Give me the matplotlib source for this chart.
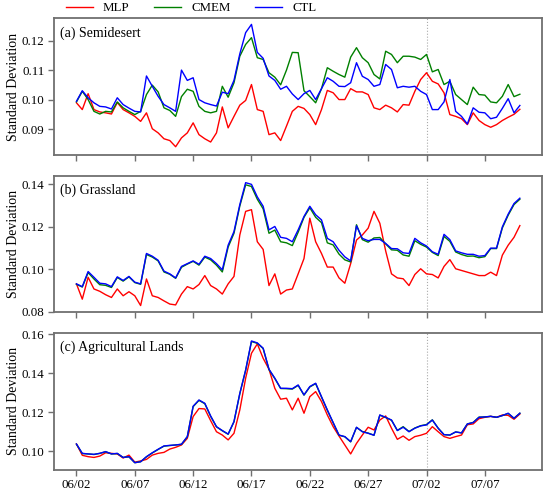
import matplotlib
matplotlib.use("Agg")
import matplotlib.pyplot as plt
import pandas as pd
import numpy as np

plt.rcParams['font.family'] = ['Liberation Serif', 'DejaVu Serif']

# ---------------- data (12-hourly, 06/02 00:00 -> 07/10 00:00) ----------------
times = pd.date_range('2021-06-02', periods=77, freq='12h')
tick_dates = pd.to_datetime(['2021-06-02', '2021-06-07', '2021-06-12', '2021-06-17',
                             '2021-06-22', '2021-06-27', '2021-07-02', '2021-07-07'])
tick_labels = ['06/02', '06/07', '06/12', '06/17', '06/22', '06/27', '07/02', '07/07']
marker_date = pd.Timestamp('2021-07-02')

panel_titles = ['(a) Semidesert', '(b) Grassland', '(c) Agricultural Lands']
series_names = ['MLP', 'CMEM', 'CTL']

mlp_a = [0.0989, 0.0966, 0.1020, 0.0966, 0.0958, 0.0955, 0.0951, 0.0990, 0.0966, 0.0955,
         0.0943, 0.0926, 0.0955, 0.0901, 0.0887, 0.0867, 0.0861, 0.0840, 0.0870, 0.0887,
         0.0921, 0.0881, 0.0867, 0.0856, 0.0887, 0.0975, 0.0904, 0.0943, 0.0981, 0.0997,
         0.1051, 0.0966, 0.0960, 0.0881, 0.0887, 0.0861, 0.0910, 0.0960, 0.0977, 0.0970,
         0.0949, 0.0915, 0.0966, 0.1031, 0.1023, 0.1000, 0.1000, 0.1037, 0.1026, 0.1026,
         0.1017, 0.0972, 0.0966, 0.0981, 0.0972, 0.0958, 0.0983, 0.0981, 0.1028, 0.1068,
         0.1091, 0.1062, 0.1053, 0.1023, 0.0949, 0.0943, 0.0935, 0.0915, 0.0955, 0.0929,
         0.0915, 0.0906, 0.0915, 0.0929, 0.0940, 0.0950, 0.0967]
cmem_a = [0.0992, 0.1028, 0.1000, 0.0960, 0.0951, 0.0960, 0.0958, 0.0992, 0.0972, 0.0960,
          0.0949, 0.0960, 0.1017, 0.1049, 0.1026, 0.0972, 0.0963, 0.0943, 0.1010, 0.1035,
          0.1028, 0.0977, 0.0960, 0.0955, 0.0960, 0.1045, 0.1008, 0.1057, 0.1147, 0.1187,
          0.1210, 0.1142, 0.1136, 0.1091, 0.1076, 0.1050, 0.1100, 0.1160, 0.1159, 0.1030,
          0.1010, 0.0989, 0.1037, 0.1108, 0.1096, 0.1085, 0.1076, 0.1144, 0.1176, 0.1142,
          0.1125, 0.1085, 0.1070, 0.1164, 0.1153, 0.1125, 0.1147, 0.1147, 0.1144, 0.1136,
          0.1153, 0.1094, 0.1102, 0.1051, 0.1062, 0.1017, 0.1000, 0.0983, 0.1042, 0.1017,
          0.1015, 0.0992, 0.0989, 0.1011, 0.1051, 0.1010, 0.1018]
ctl_a = [0.0994, 0.1030, 0.1006, 0.0989, 0.0977, 0.0975, 0.0968, 0.1006, 0.0983, 0.0971,
         0.0960, 0.0958, 0.1080, 0.1045, 0.1011, 0.0983, 0.0972, 0.0960, 0.1100, 0.1065,
         0.1074, 0.1000, 0.0989, 0.0983, 0.0978, 0.1025, 0.1020, 0.1065, 0.1155, 0.1227,
         0.1255, 0.1160, 0.1140, 0.1080, 0.1065, 0.1035, 0.1045, 0.1019, 0.1000, 0.1020,
         0.1031, 0.1000, 0.1037, 0.1074, 0.1062, 0.1045, 0.1044, 0.1057, 0.1125, 0.1079,
         0.1068, 0.1045, 0.1051, 0.1119, 0.1102, 0.1040, 0.1045, 0.1042, 0.1045, 0.1028,
         0.1017, 0.0966, 0.0966, 0.0992, 0.1068, 0.0960, 0.0943, 0.0917, 0.0972, 0.0957,
         0.0955, 0.0935, 0.0940, 0.0970, 0.1003, 0.0955, 0.0980]

mlp_b = [0.0932, 0.0860, 0.0963, 0.0908, 0.0897, 0.0881, 0.0868, 0.0908, 0.0876, 0.0895,
         0.0876, 0.0830, 0.0955, 0.0876, 0.0868, 0.0852, 0.0837, 0.0833, 0.0884, 0.0919,
         0.0908, 0.0929, 0.0971, 0.0924, 0.0908, 0.0884, 0.0932, 0.0967, 0.1162, 0.1273,
         0.1281, 0.1130, 0.1094, 0.0924, 0.0979, 0.0884, 0.0903, 0.0908, 0.0979, 0.1051,
         0.1241, 0.1130, 0.1075, 0.1011, 0.1011, 0.0960, 0.0935, 0.1027, 0.1138, 0.1162,
         0.1194, 0.1273, 0.1217, 0.1087, 0.0979, 0.0960, 0.0956, 0.0924, 0.0976, 0.1003,
         0.0979, 0.0976, 0.0960, 0.1014, 0.1046, 0.1003, 0.0995, 0.0987, 0.0979, 0.0971,
         0.0971, 0.0987, 0.0971, 0.1067, 0.1114, 0.1151, 0.1206]
cmem_b = [0.0930, 0.0917, 0.0985, 0.0955, 0.0928, 0.0925, 0.0915, 0.0962, 0.0945, 0.0965,
          0.0938, 0.0930, 0.1070, 0.1058, 0.1040, 0.0988, 0.0977, 0.0958, 0.1010, 0.1025,
          0.1038, 0.1020, 0.1058, 0.1045, 0.1020, 0.0988, 0.1105, 0.1170, 0.1298, 0.1398,
          0.1390, 0.1330, 0.1285, 0.1170, 0.1185, 0.1130, 0.1125, 0.1112, 0.1175, 0.1245,
          0.1290, 0.1245, 0.1220, 0.1125, 0.1115, 0.1072, 0.1045, 0.1035, 0.1210, 0.1140,
          0.1128, 0.1148, 0.1150, 0.1120, 0.1092, 0.1090, 0.1068, 0.1062, 0.1135, 0.1118,
          0.1105, 0.1080, 0.1065, 0.1155, 0.1132, 0.1082, 0.1070, 0.1062, 0.1063, 0.1055,
          0.1060, 0.1098, 0.1098, 0.1195, 0.1255, 0.1305, 0.1330]
ctl_b = [0.0932, 0.0919, 0.0990, 0.0963, 0.0935, 0.0932, 0.0919, 0.0965, 0.0948, 0.0967,
         0.0940, 0.0932, 0.1075, 0.1062, 0.1043, 0.0992, 0.0979, 0.0960, 0.1014, 0.1027,
         0.1040, 0.1024, 0.1062, 0.1051, 0.1027, 0.0998, 0.1114, 0.1178, 0.1305, 0.1408,
         0.1400, 0.1341, 0.1297, 0.1186, 0.1202, 0.1151, 0.1146, 0.1130, 0.1186, 0.1249,
         0.1297, 0.1257, 0.1233, 0.1146, 0.1130, 0.1090, 0.1059, 0.1040, 0.1205, 0.1146,
         0.1135, 0.1141, 0.1141, 0.1122, 0.1098, 0.1097, 0.1078, 0.1075, 0.1146, 0.1125,
         0.1110, 0.1083, 0.1071, 0.1165, 0.1140, 0.1087, 0.1078, 0.1071, 0.1071, 0.1062,
         0.1065, 0.1100, 0.1100, 0.1200, 0.1260, 0.1310, 0.1335]

mlp_c = [0.1036, 0.0978, 0.0971, 0.0967, 0.0974, 0.0991, 0.0988, 0.0985, 0.0964, 0.0979,
         0.0943, 0.0949, 0.0957, 0.0979, 0.0988, 0.0993, 0.1010, 0.1019, 0.1031, 0.1065,
         0.1177, 0.1218, 0.1216, 0.1156, 0.1099, 0.1082, 0.1057, 0.1091, 0.1211, 0.1374,
         0.1502, 0.1550, 0.1476, 0.1420, 0.1322, 0.1266, 0.1271, 0.1211, 0.1271, 0.1194,
         0.1279, 0.1305, 0.1254, 0.1185, 0.1125, 0.1077, 0.1031, 0.0985, 0.1039, 0.1082,
         0.1122, 0.1108, 0.1159, 0.1180, 0.1117, 0.1060, 0.1077, 0.1055, 0.1074, 0.1081,
         0.1091, 0.1125, 0.1099, 0.1074, 0.1065, 0.1074, 0.1082, 0.1135, 0.1139, 0.1166,
         0.1173, 0.1178, 0.1173, 0.1185, 0.1183, 0.1163, 0.1190]
cmem_c = [0.1035, 0.0987, 0.0985, 0.0982, 0.0988, 0.0996, 0.0985, 0.0987, 0.0967, 0.0970,
          0.0940, 0.0945, 0.0970, 0.0990, 0.1008, 0.1025, 0.1028, 0.1031, 0.1034, 0.1073,
          0.1228, 0.1260, 0.1243, 0.1178, 0.1124, 0.1104, 0.1086, 0.1150, 0.1294, 0.1414,
          0.1562, 0.1553, 0.1526, 0.1418, 0.1372, 0.1321, 0.1320, 0.1318, 0.1337, 0.1287,
          0.1329, 0.1346, 0.1277, 0.1209, 0.1145, 0.1081, 0.1073, 0.1047, 0.1121, 0.1100,
          0.1092, 0.1081, 0.1184, 0.1172, 0.1158, 0.1106, 0.1125, 0.1100, 0.1118, 0.1130,
          0.1136, 0.1160, 0.1117, 0.1084, 0.1082, 0.1098, 0.1093, 0.1139, 0.1147, 0.1174,
          0.1175, 0.1178, 0.1173, 0.1182, 0.1193, 0.1168, 0.1194]
ctl_c = [0.1036, 0.0988, 0.0985, 0.0983, 0.0988, 0.0997, 0.0985, 0.0988, 0.0967, 0.0971,
         0.0940, 0.0945, 0.0971, 0.0991, 0.1009, 0.1026, 0.1029, 0.1031, 0.1035, 0.1074,
         0.1230, 0.1262, 0.1245, 0.1180, 0.1125, 0.1105, 0.1087, 0.1151, 0.1296, 0.1416,
         0.1565, 0.1555, 0.1528, 0.1420, 0.1374, 0.1322, 0.1322, 0.1320, 0.1339, 0.1288,
         0.1331, 0.1348, 0.1279, 0.1211, 0.1146, 0.1082, 0.1074, 0.1048, 0.1122, 0.1099,
         0.1091, 0.1081, 0.1185, 0.1173, 0.1159, 0.1105, 0.1122, 0.1099, 0.1117, 0.1129,
         0.1134, 0.1159, 0.1117, 0.1084, 0.1082, 0.1098, 0.1093, 0.1139, 0.1146, 0.1173,
         0.1175, 0.1178, 0.1173, 0.1182, 0.1194, 0.1168, 0.1194]

yticks_a = [0.09, 0.10, 0.11, 0.12]
yticks_b = [0.08, 0.10, 0.12, 0.14]
yticks_c = [0.10, 0.12, 0.14, 0.16]

# ---------------- figure ----------------
colors = ['#ff0000', '#008000', '#0000ff']
fig = plt.figure(figsize=(5.5, 4.92), dpi=100)
left, width = 0.0987, 0.8868
boxes = [(0.685, 0.278), (0.366, 0.277), (0.0453, 0.2787)]
ylims = [(0.0812, 0.1276), (0.080, 0.1441), (0.0904, 0.1608)]
all_series = [(mlp_a, cmem_a, ctl_a), (mlp_b, cmem_b, ctl_b), (mlp_c, cmem_c, ctl_c)]
all_yticks = [yticks_a, yticks_b, yticks_c]

axes = []
for i in range(3):
    b, h = boxes[i]
    ax = fig.add_axes([left, b, width, h])
    axes.append(ax)
    lines = []
    for s, name, c in zip(all_series[i], series_names, colors):
        ln, = ax.plot(times, s, color=c, lw=1.0, label=name)
        lines.append(ln)
    ax.axvline(marker_date, color='#aaaaaa', lw=0.8, ls=':', zorder=0)
    ax.set_ylim(*ylims[i])
    ax.set_yticks(all_yticks[i])
    ax.set_yticklabels([f'{v:.2f}' for v in all_yticks[i]], fontsize=9.3)
    ax.set_xticks(tick_dates)
    if i == 2:
        ax.set_xticklabels(tick_labels, fontsize=9.3)
    else:
        ax.set_xticklabels([])
    ax.set_ylabel('Standard Deviation', fontsize=10, labelpad=1.5)
    ax.text(0.012, 0.94, panel_titles[i], transform=ax.transAxes,
            fontsize=10, va='top', ha='left')
    for sp in ax.spines.values():
        sp.set_color('#707070')
        sp.set_linewidth(1.3)
    ax.tick_params(axis='both', direction='out', length=4, width=1.0,
                   color='#707070', pad=3)
    ax.margins(x=0.05)

fig.legend(lines, series_names, loc='center left', ncol=3,
           bbox_to_anchor=(66.0 / 550, 1 - 8.3 / 492), frameon=False,
           fontsize=9.3, handlelength=2.07, handletextpad=0.78,
           columnspacing=1.93, borderpad=0, borderaxespad=0)

fig.savefig('out.png', dpi=100)
